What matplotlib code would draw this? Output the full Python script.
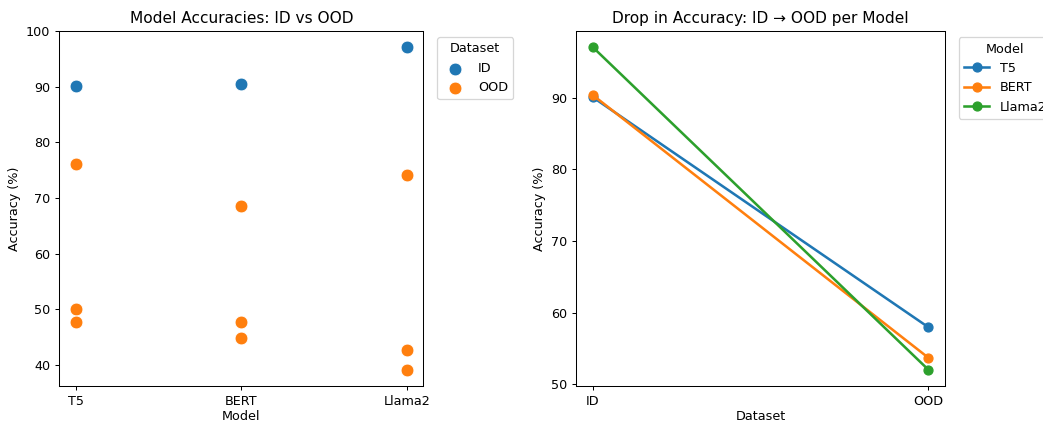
import matplotlib.pyplot as plt

# accuracies
models = ["T5", "BERT", "Llama2"]
id_acc = [90.1, 90.4, 97.1]
ood_t5 = [76.1, 50.1, 47.7]
ood_bert = [68.5, 47.7, 44.9]
ood_llama = [74.2, 42.7, 39.2]
ood_acc = [ood_t5, ood_bert, ood_llama]

datasets = ["ID", "OOD"]
colors = ["#1f77b4", "#ff7f0e", "#2ca02c"]

W, H, DPI = 1043, 423, 92
fig = plt.figure(figsize=(W / DPI, H / DPI), dpi=DPI)
ax1 = fig.add_axes([59.3 / W, 1 - 385.7 / H, 364 / W, 354.7 / H])
ax2 = fig.add_axes([576 / W, 1 - 385.7 / H, 369 / W, 354.7 / H])

# left: scatter of all runs
ood_x = [m for m, vals in zip(models, ood_acc) for _ in vals]
ood_y = [v for vals in ood_acc for v in vals]
ax1.scatter(models, id_acc, s=100, color=colors[0], edgecolor="white", linewidth=0.6, label="ID", zorder=3)
ax1.scatter(ood_x, ood_y, s=100, color=colors[1], edgecolor="white", linewidth=0.6, label="OOD", zorder=3)
ax1.set_ylim(36.3, 100.0)
ax1.set_title("Model Accuracies: ID vs OOD")
ax1.set_xlabel("Model", labelpad=2)
ax1.set_ylabel("Accuracy (%)")
ax1.legend(title="Dataset", loc="upper left", bbox_to_anchor=(1.02, 1))

# right: mean drop per model
for i, m in enumerate(models):
    ood_mean = sum(ood_acc[i]) / len(ood_acc[i])
    ax2.plot(datasets, [id_acc[i], ood_mean], marker="o", lw=2, ms=7,
             color=colors[i], label=m)
ax2.set_title("Drop in Accuracy: ID \u2192 OOD per Model")
ax2.set_xlabel("Dataset", labelpad=2)
ax2.set_ylabel("Accuracy (%)")
ax2.legend(title="Model", loc="upper left", bbox_to_anchor=(1.02, 1))

fig.savefig("out.png", dpi=DPI)
